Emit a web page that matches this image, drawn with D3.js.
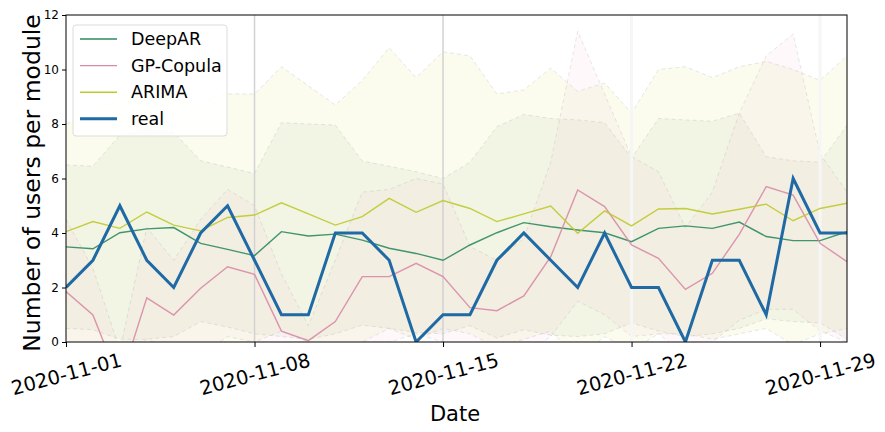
<!DOCTYPE html>
<html>
<head>
<meta charset="utf-8">
<script src="https://cdn.jsdelivr.net/npm/d3@7"></script>
<style>
  body { margin: 0; background: #fff; }
  svg text { font-family: "DejaVu Sans", sans-serif; }
</style>
</head>
<body>
<div id="chart"></div>
<script>
// daily values, 2020-11-01 .. 2020-11-30
let startDay = new Date(2020, 10, 1);
let days = d3.timeDay.range(startDay, new Date(2020, 11, 1));

let real     = [2,3,5,3,2,4,5,3,1,1,4,4,3,0,1,1,3,4,3,2,4,2,2,0,3,3,1,6,4,4];
let deepar   = [3.49,3.42,4.01,4.15,4.2,3.62,3.4,3.17,4.05,3.89,3.96,3.74,3.44,3.25,3.0,3.56,4.01,4.38,4.23,4.11,4.01,3.68,4.17,4.26,4.17,4.4,3.87,3.72,3.72,4.05];
let gpcopula = [1.85,0.99,-1.5,1.62,0.99,1.97,2.76,2.48,0.4,0.05,0.75,2.4,2.4,2.89,2.4,1.26,1.15,1.69,3.13,5.58,4.97,3.56,3.07,1.93,2.52,3.95,5.7,5.39,3.62,2.95];
let arima    = [4.05,4.42,4.17,4.77,4.29,4.08,4.57,4.66,5.11,4.7,4.29,4.6,5.27,4.76,5.19,4.9,4.42,4.7,4.99,3.99,4.81,4.26,4.88,4.9,4.7,4.87,5.06,4.45,4.9,5.09];

let deeparHi = [6.5,6.45,7.6,7.8,7.7,6.65,6.42,6.18,8.05,8.0,7.96,6.64,6.45,6.25,6.0,6.6,7.9,8.35,8.2,8.15,8.05,6.75,8.2,8.15,8.1,8.4,6.8,6.65,6.6,7.95];
let deeparLo = [0.5,0.45,0.1,0.1,0.2,0.75,0.55,0.3,0.2,0.1,0.3,0.62,0.5,0.35,0.3,0.6,0.15,0.45,0.25,0.2,0.3,0.7,0.4,0.2,0.3,0.5,0.85,0.75,0.7,0.1];
let gpHi     = [4.5,2.7,-0.3,4.2,3.0,4.5,5.6,5.0,2.5,0.6,3.0,5.5,5.6,6.0,5.8,3.5,3.0,3.8,6.6,11.4,9.1,6.8,6.25,4.2,5.5,8.4,10.5,11.3,6.9,5.5];
let gpLo     = [-0.5,-1.0,-4.0,-0.8,-1.2,-0.5,0.2,0.0,-1.5,-2.0,-1.2,0.0,0.0,0.3,0.0,-0.8,-0.8,-0.5,0.2,1.5,1.0,0.2,0.3,-0.5,0.0,0.8,1.2,1.2,0.4,0.0];
let arimaHi  = [8.0,8.4,9.0,9.4,9.2,8.8,9.1,9.1,10.1,9.4,8.7,9.6,10.8,9.7,10.65,10.5,9.1,9.25,10.05,9.2,9.5,8.4,10.0,10.1,9.7,10.1,10.3,10.0,9.6,10.5];
let arimaLo  = [-0.4,-0.2,-0.5,0.1,-0.3,-0.5,-0.1,0.0,0.4,0.0,-0.3,0.0,0.5,0.1,0.5,0.3,-0.2,0.1,0.4,-0.6,0.2,-0.3,0.3,0.3,0.1,0.3,0.5,-0.1,0.3,0.5];

let tickDays = ["2020-11-01","2020-11-08","2020-11-15","2020-11-22","2020-11-29"];
let yTicks = [0,2,4,6,8,10,12];

let models = [
  {name:"ARIMA",     mean:arima,    lo:arimaLo,  hi:arimaHi,  line:"#bfc92e", fill:"#eef2b0", fillOp:0.22},
  {name:"DeepAR",    mean:deepar,   lo:deeparLo, hi:deeparHi, line:"#2e8b5f", fill:"#a8b098", fillOp:0.1},
  {name:"GP-Copula", mean:gpcopula, lo:gpLo,     hi:gpHi,     line:"#d889a6", fill:"#f6c8d6", fillOp:0.12}
];

let width = 885, height = 432;
let margin = {left:66, right:38, top:15, bottom:90};

let svg = d3.select("#chart").append("svg")
  .attr("width", width)
  .attr("height", height);

let x = d3.scaleTime()
  .domain([days[0], days[days.length-1]])
  .range([margin.left, width - margin.right]);
let y = d3.scaleLinear()
  .domain([0, 12])
  .range([height - margin.bottom, margin.top]);

svg.append("clipPath").attr("id", "clip")
  .append("rect")
  .attr("x", margin.left).attr("y", margin.top)
  .attr("width", x.range()[1] - margin.left)
  .attr("height", y(0) - margin.top);

let plot = svg.append("g").attr("clip-path", "url(#clip)");

// bands
models.forEach(m => {
  let area = d3.area()
    .x((d,i) => x(days[i]))
    .y0((d,i) => y(m.lo[i]))
    .y1((d,i) => y(m.hi[i]));
  plot.append("path")
    .attr("d", area(m.mean))
    .attr("fill", m.fill)
    .attr("fill-opacity", m.fillOp);
});

models.forEach(m => {
  [m.lo, m.hi].forEach(arr => {
    let ln = d3.line().x((d,i) => x(days[i])).y(d => y(d));
    plot.append("path")
      .attr("d", ln(arr))
      .attr("fill", "none")
      .attr("stroke", "#a8a8a8")
      .attr("stroke-opacity", 0.28)
      .attr("stroke-dasharray", "4,3")
      .attr("stroke-width", 1);
  });
});

// week markers
tickDays.forEach((t, i) => {
  if (i == 0) return;
  let xx = x(d3.timeParse("%Y-%m-%d")(t));
  plot.append("line")
    .attr("x1", xx).attr("x2", xx)
    .attr("y1", margin.top).attr("y2", y(0))
    .attr("stroke", i < 3 ? "#d2d2d2" : "#f6f6f6")
    .attr("stroke-width", i < 3 ? 1.5 : 3);
});

// mean lines
let meanLine = d3.line().x((d,i) => x(days[i])).y(d => y(d));
["DeepAR","GP-Copula","ARIMA"].forEach(n => {
  let m = models.find(d => d.name == n);
  plot.append("path")
    .attr("d", meanLine(m.mean))
    .attr("fill", "none")
    .attr("stroke", m.line)
    .attr("stroke-opacity", 0.9)
    .attr("stroke-width", 1.4);
});

plot.append("path")
  .attr("d", meanLine(real))
  .attr("fill", "none")
  .attr("stroke", "#1f6aa5")
  .attr("stroke-width", 3)
  .attr("stroke-linejoin", "miter");

// axes
let xAxis = d3.axisBottom(x)
  .tickValues(tickDays.map(d3.timeParse("%Y-%m-%d")))
  .tickFormat(d3.timeFormat("%Y-%m-%d"))
  .tickSize(5);
let gx = svg.append("g")
  .attr("transform", "translate(0," + y(0) + ")")
  .call(xAxis);
gx.select(".domain").remove();
gx.selectAll("text")
  .attr("font-size", "19.5px")
  .attr("fill", "#000")
  .attr("text-anchor", "middle")
  .attr("y", 0).attr("dy", "0.35em")
  .attr("transform", "translate(0,32) rotate(-15)");

let gy = svg.append("g")
  .attr("transform", "translate(" + margin.left + ",0)")
  .call(d3.axisLeft(y).tickValues(yTicks).tickSize(4).tickPadding(3));
gy.select(".domain").remove();
gy.selectAll("text").attr("font-size", "12px").attr("fill", "#000");

svg.append("rect")
  .attr("x", margin.left).attr("y", margin.top)
  .attr("width", x.range()[1] - margin.left)
  .attr("height", y(0) - margin.top)
  .attr("fill", "none")
  .attr("stroke", "#000")
  .attr("stroke-width", 1);

svg.append("text")
  .attr("transform", "translate(40,183) rotate(-90)")
  .attr("text-anchor", "middle")
  .attr("font-size", "23.5px")
  .text("Number of users per module");

svg.append("text")
  .attr("x", 455).attr("y", 421)
  .attr("text-anchor", "middle")
  .attr("font-size", "21px")
  .text("Date");

// legend
let legendItems = [
  {name:"DeepAR", color:"#2e8b5f", w:1.4},
  {name:"GP-Copula", color:"#d889a6", w:1.4},
  {name:"ARIMA", color:"#bfc92e", w:1.4},
  {name:"real", color:"#1f6aa5", w:3}
];
let legend = svg.append("g");
legend.append("rect")
  .attr("x", 73).attr("y", 25)
  .attr("width", 154).attr("height", 111)
  .attr("rx", 3)
  .attr("fill", "#fff").attr("fill-opacity", 0.85)
  .attr("stroke", "#dcdcdc");
let keys = legend.selectAll(".key")
  .data(legendItems)
  .enter().append("g")
  .attr("class", "key")
  .attr("transform", (d,i) => "translate(0," + (39 + i*26.6) + ")");
keys.append("line")
  .attr("x1", 80).attr("x2", 117)
  .attr("stroke", d => d.color)
  .attr("stroke-width", d => d.w);
keys.append("text")
  .attr("x", 131).attr("dy", "0.35em")
  .attr("font-size", "17.5px")
  .text(d => d.name);
</script>
</body>
</html>
